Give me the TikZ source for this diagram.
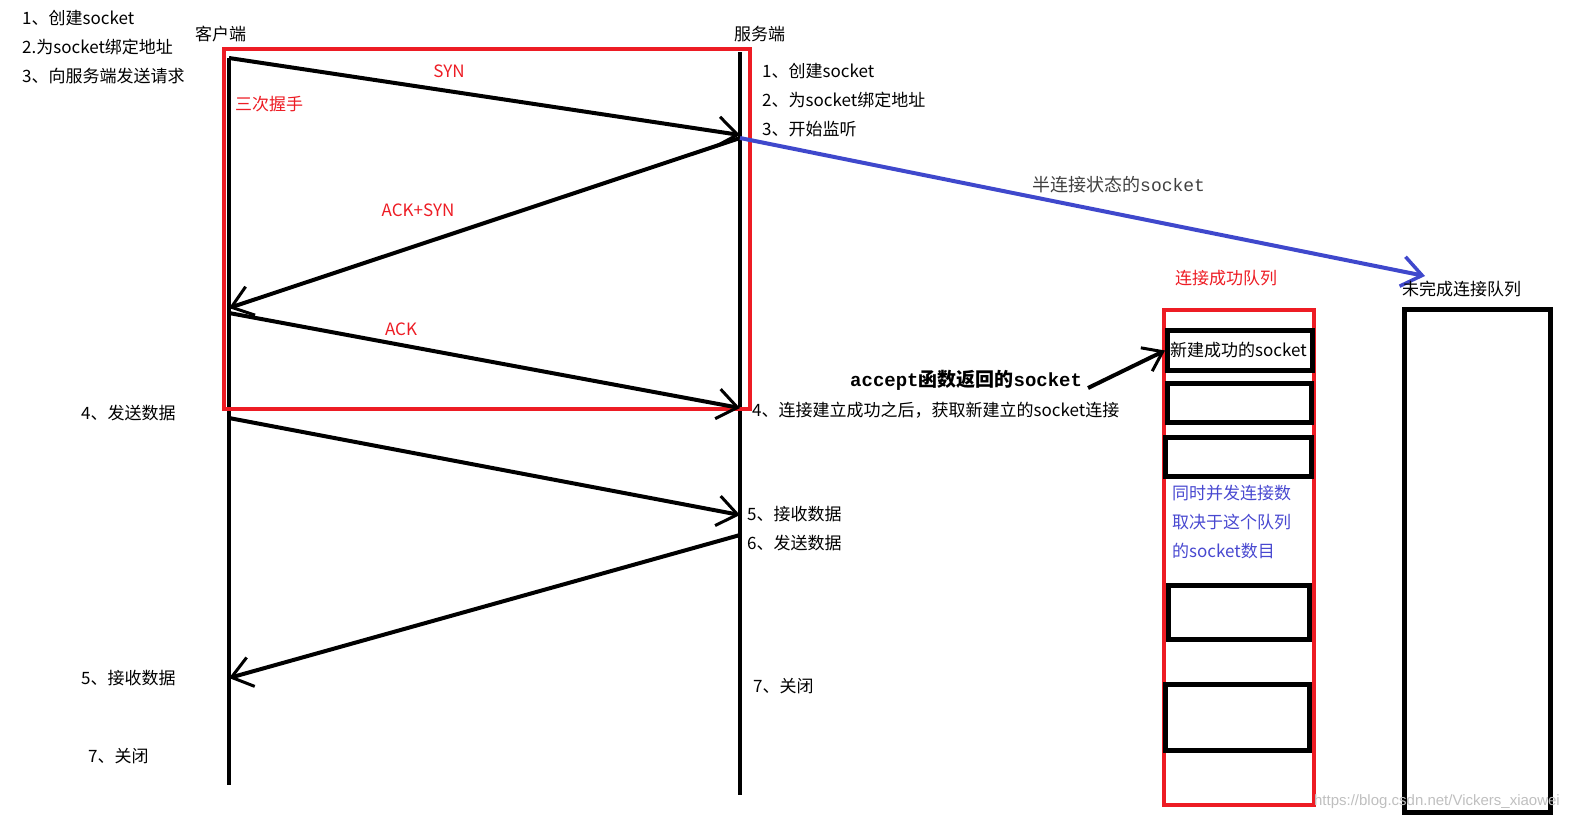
\documentclass[tikz,border=0pt]{standalone}
\usepackage{fontspec}
\setmainfont{Noto Sans CJK SC}
\newfontfamily\lmono{Liberation Mono}
\newfontfamily\lsans{Liberation Sans}
\usetikzlibrary{arrows.meta}
\definecolor{pred}{HTML}{ED1C24}
\definecolor{pblue}{HTML}{3F48CC}
\definecolor{tblue}{HTML}{4848D0}
\begin{document}
\begin{tikzpicture}[x=1pt,y=-1pt,
  txt/.style={anchor=west,inner sep=0pt,font=\fontsize{17}{19}\selectfont},
  rtxt/.style={txt,text=pred},
  btxt/.style={txt,text=tblue},
  lbl/.style={inner sep=0pt,text=pred,font=\fontsize{17}{19}\selectfont},
  life/.style={line width=4pt},
  msg/.style={line width=4pt,-{Straight Barb[length=20pt,width=30pt,line width=3pt]}},
  redbox/.style={draw=pred,line width=4pt,anchor=north west,inner sep=0pt},
  qbox/.style={draw=black,line width=5pt,anchor=north west,inner sep=0pt}]
\useasboundingbox (0,0) rectangle (1570,822);

% lifelines
\coordinate (ctop) at (229,58);  \coordinate (cbot) at (229,785);
\coordinate (stop) at (740,52);  \coordinate (sbot) at (740,795);
\draw[life] (ctop) -- (cbot);
\draw[life] (stop) -- (sbot);

% handshake box
\node[redbox,minimum width=526pt,minimum height=360pt] (hs) at (222,47) {};

% message points
\coordinate (s1) at (740,135);
\coordinate (s2) at (740,138);
\coordinate (c2) at (229,308);
\coordinate (c3) at (229,313);
\coordinate (s3) at (740,408);
\coordinate (c4) at (229,418);
\coordinate (s4) at (740,515);
\coordinate (s5) at (740,535);
\coordinate (c5) at (229,678);

\draw[msg] (ctop) -- (s1);
\draw[msg] (s2) -- (c2);
\draw[msg] (c3) -- (s3);
\draw[msg] (c4) -- (s4);
\draw[msg] (s5) -- (c5);

% labels on messages
\node[lbl] (syn) at (449,71) {SYN};
\node[lbl] (acksyn) at (418,210) {ACK+SYN};
\node[lbl] (ack) at (401,329) {ACK};
\node[rtxt] (sanci) at (235,104) {三次握手};

% headers
\node[txt] (client) at (195,34) {客户端};
\node[txt] (server) at (734,34) {服务端};

% client steps
\node[txt] (cs1) at (22,18) {1、创建socket};
\node[txt] (cs2) at (22,47) {2.为socket绑定地址};
\node[txt] (cs3) at (22,76) {3、向服务端发送请求};
\node[txt] (cs4) at (81,413) {4、发送数据};
\node[txt] (cs5) at (81,678) {5、接收数据};
\node[txt] (cs7) at (88,756) {7、关闭};

% server steps
\node[txt] (ss1) at (762,71) {1、创建socket};
\node[txt] (ss2) at (762,100) {2、为socket绑定地址};
\node[txt] (ss3) at (762,129) {3、开始监听};
\node[txt] (ss4) at (752,410) {4、连接建立成功之后，获取新建立的socket连接};
\node[txt] (ss5) at (747,514) {5、接收数据};
\node[txt] (ss6) at (747,543) {6、发送数据};
\node[txt] (ss7) at (753,686) {7、关闭};

% half-connection arrow
\coordinate (halfend) at (1425,276);
\draw[line width=4pt,draw=pblue,-{Straight Barb[length=20pt,width=30pt,line width=3.5pt]}] (s2) -- (halfend);
\node[txt,text=black!75,font=\fontsize{18}{20}\selectfont] (half) at (1032,185) {半连接状态的{\lmono socket}};

% completed queue
\node[rtxt] (qtitle) at (1175,278) {连接成功队列};
\node[redbox,minimum width=150pt,minimum height=495pt] (q) at (1162,308) {};
\node[qbox,minimum width=145pt,minimum height=40pt] (b1) at (1165,328) {};
\node[txt] (b1t) at (1170,350) {新建成功的socket};
\node[qbox,minimum width=144pt,minimum height=39pt] (b2) at (1165,381) {};
\node[qbox,minimum width=146pt,minimum height=39pt] (b3) at (1163,435) {};
\node[btxt] (n1) at (1172,493) {同时并发连接数};
\node[btxt] (n2) at (1172,522) {取决于这个队列};
\node[btxt] (n3) at (1172,551) {的socket数目};
\node[qbox,minimum width=141pt,minimum height=54pt] (b4) at (1166,583) {};
\node[qbox,minimum width=144pt,minimum height=66pt] (b5) at (1163,682) {};

% accept arrow
\node[anchor=west,inner sep=0pt,font=\fontsize{19}{21}\selectfont\bfseries] (acc) at (850,380) {{\lmono\bfseries accept}函数返回的{\lmono\bfseries socket}};
\coordinate (accs) at (1088,388);
\draw[line width=4pt,-{Straight Barb[length=18pt,width=26pt,line width=3pt]}] (accs) -- (b1.west);

% incomplete queue
\node[txt] (utitle) at (1402,289) {未完成连接队列};
\node[qbox,minimum width=146pt,minimum height=503pt] (u) at (1402,307) {};

% watermark
\node[anchor=east,inner sep=0pt,text=black!25,font=\lsans\fontsize{15}{17}\selectfont] (wm) at (1560,802) {https://blog.csdn.net/Vickers\_xiaowei};
\end{tikzpicture}
\end{document}
